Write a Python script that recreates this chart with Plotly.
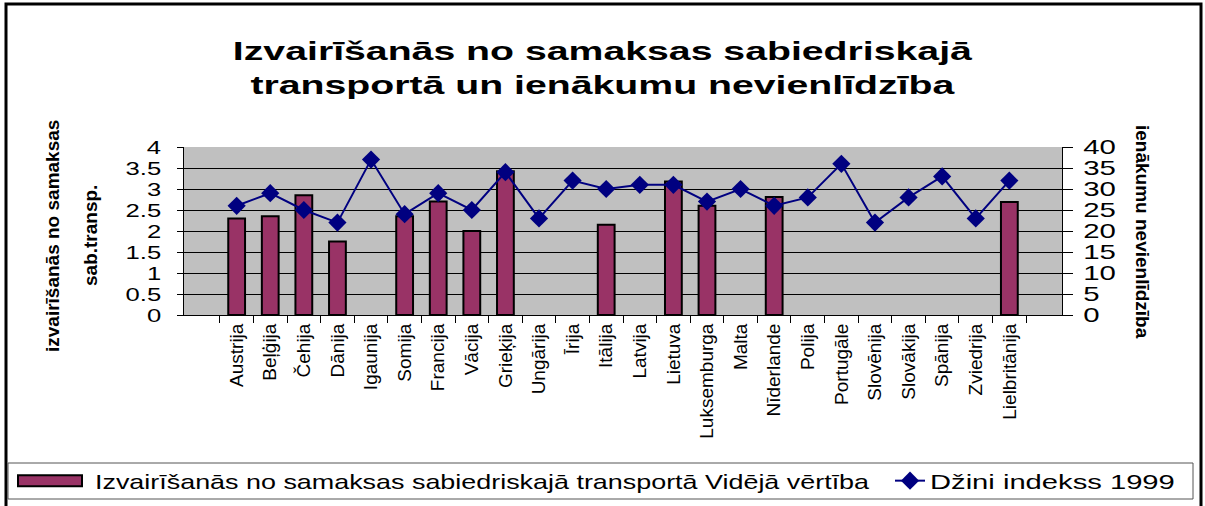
import plotly.graph_objects as go
from plotly.subplots import make_subplots

countries = ["Austrija", "Beļģija", "Čehija", "Dānija", "Igaunija", "Somija", "Francija",
             "Vācija", "Grieķija", "Ungārija", "Īrija", "Itālija", "Latvija", "Lietuva",
             "Luksemburga", "Malta", "Nīderlande", "Polija", "Portugāle", "Slovēnija",
             "Slovākija", "Spānija", "Zviedrija", "Lielbritānija"]
avoidance = [2.3, 2.35, 2.85, 1.75, None, 2.35, 2.7, 2.0, 3.42, None, None, 2.15, None, 3.18,
             2.6, None, 2.81, None, None, None, None, None, None, 2.69]
gini = [26, 29, 25, 22, 37, 24, 29, 25, 34, 23, 32, 30, 31, 31, 27, 30, 26, 28, 36, 22,
        28, 33, 23, 32]

bar_name = "Izvairīšanās no samaksas sabiedriskajā transportā Vidējā vērtība"
line_name = "Džini indekss 1999"
title_text = "Izvairīšanās no samaksas sabiedriskajā<br>transportā un ienākumu nevienlīdzība"
left_title = ["izvairīšanās no samaksas", "sab.transp."]
right_title = "ienākumu nevienlīdzība"

FONT = "Liberation Sans, Arial, sans-serif"

W, H = 1205, 506
L, R, T, B = 184, 1205 - 1062, 147, 506 - 315
PW, PH = W - L - R, H - T - B


def px(sx):
    return (sx - L) / PW


def py(sy):
    return (H - B - sy) / PH


fig = make_subplots(specs=[[{"secondary_y": True}]])
fig.add_trace(go.Bar(x=countries, y=avoidance, name=bar_name, width=0.5, legend="legend",
                     marker=dict(color="#993366", line=dict(color="black", width=2))),
              secondary_y=False)
fig.add_trace(go.Scatter(x=countries, y=gini, name=line_name, mode="lines+markers",
                         legend="legend2",
                         line=dict(color="#000080", width=2),
                         marker=dict(symbol="diamond", size=14, color="#000080")),
              secondary_y=True)

fig.update_layout(
    width=W, height=H,
    margin=dict(l=L, r=R, t=T, b=B, autoexpand=False),
    paper_bgcolor="white", plot_bgcolor="#C0C0C0",
    font=dict(family=FONT, color="black"),
    hovermode=False,
    title=dict(text=title_text, x=0.5, xref="container", y=1 - 60 / H, yref="container",
               yanchor="middle",
               font=dict(size=26, family=FONT, color="black", weight="bold")),
    showlegend=True,
    legend=dict(orientation="h", x=px(25), xanchor="left", y=py(481), yanchor="middle",
                font=dict(size=21, family=FONT), bgcolor="rgba(0,0,0,0)", itemwidth=60),
    legend2=dict(orientation="h", x=px(890), xanchor="left", y=py(481), yanchor="middle",
                 font=dict(size=21, family=FONT), bgcolor="rgba(0,0,0,0)"),
    shapes=[
        dict(type="rect", xref="paper", yref="paper", x0=px(6), x1=px(1201), y0=py(530), y1=py(4),
             line=dict(color="black", width=3), layer="below"),
        dict(type="rect", xref="paper", yref="paper", x0=px(8), x1=px(1193), y0=py(499), y1=py(463),
             line=dict(color="#555555", width=1), layer="below"),
    ],
    annotations=[
        dict(text=left_title[0], xref="paper", yref="paper", x=px(52), y=py(236), textangle=-90,
             xanchor="center", yanchor="middle",
             showarrow=False, font=dict(size=19, family=FONT, weight="bold")),
        dict(text=left_title[1], xref="paper", yref="paper", x=px(90), y=py(236), textangle=-90,
             xanchor="center", yanchor="middle",
             showarrow=False, font=dict(size=19, family=FONT, weight="bold")),
        dict(text=right_title, xref="paper", yref="paper", x=px(1143), y=py(232), textangle=90,
             xanchor="center", yanchor="middle",
             showarrow=False, font=dict(size=19, family=FONT, weight="bold")),
    ],
)

fig.update_xaxes(type="category", domain=[0, 1], tickangle=-90, tickson="boundaries",
                 ticks="outside", ticklen=7, tickcolor="black", showline=True,
                 linecolor="black", linewidth=1, tickfont=dict(size=19, family=FONT),
                 showgrid=False, automargin=False)
fig.update_yaxes(range=[0, 4], dtick=0.5, ticks="outside", ticklen=6, tickcolor="black",
                 showline=True, linecolor="black", linewidth=1, gridcolor="black", gridwidth=1,
                 tickfont=dict(size=19, family=FONT), zeroline=False, automargin=False,
                 ticklabelstandoff=12, secondary_y=False)
fig.update_yaxes(range=[0, 40], dtick=5, ticks="outside", ticklen=10, tickcolor="black",
                 showline=True, linecolor="black", linewidth=1, showgrid=False,
                 tickfont=dict(size=21, family=FONT), zeroline=False, automargin=False,
                 ticklabelstandoff=6, secondary_y=True)

# page without body margin, and horizontal widening of texts
# (the reference is drawn with horizontally stretched type)
post_js = """
(function(){
  document.body.style.margin = '0';
  document.documentElement.style.overflow = 'hidden';
  var gd = document.getElementById('{plot_id}');
  function apply(el, anchor, mode, val){
    var t = el.getAttribute('transform') || '';
    if (el.getAttribute('data-st') !== null && el.getAttribute('data-st') === t) return;
    var b = el.getBBox();
    if (!b.width) return;
    var s = (mode === 'w') ? val / b.width : val;
    var cx = anchor === 'left' ? b.x : (anchor === 'right' ? b.x + b.width : b.x + b.width / 2);
    var nt = t + ' translate(' + cx + ',0) scale(' + s + ',1) translate(' + (-cx) + ',0)';
    el.setAttribute('transform', nt);
    el.setAttribute('data-st', nt);
  }
  function run(){
    gd.querySelectorAll('.gtitle').forEach(function(el){ apply(el, 'center', 'w', 740); });
    document.querySelectorAll('text').forEach(function(el){
      var txt = (el.textContent || '').trim();
      if (txt.indexOf('Vidējā vērtība') >= 0) apply(el, 'left', 'w', 775);
      else if (txt === 'Džini indekss 1999') apply(el, 'left', 'w', 245);
    });
    document.querySelectorAll('[clip-path]').forEach(function(el){
      var g = el.closest('.infolayer');
      if (g) el.removeAttribute('clip-path');
    });
    gd.querySelectorAll('g.ytick text').forEach(function(el){ apply(el, 'right', 's', 1.35); });
    gd.querySelectorAll('g.y2tick text').forEach(function(el){ apply(el, 'left', 's', 1.4); });
    gd.querySelectorAll('g.legend .legendpoints path').forEach(function(p){
      if (p.getAttribute('data-wide')) return;
      var r = p.getBoundingClientRect();
      if (!r.width) return;
      var c = (r.left + r.right) / 2;
      var a = 82 - c, z = 18 - c;
      p.setAttribute('d', 'M' + a + ',5.5H' + z + 'V-5.5H' + a + 'Z');
      p.setAttribute('data-wide', '1');
    });
  }
  run();
  requestAnimationFrame(run);
  [0, 20, 60, 150, 400, 1000, 2000].forEach(function(ms){ setTimeout(run, ms); });
  if (gd.on) gd.on('plotly_afterplot', run);
})();
"""

fig.write_html("out.html", post_script=post_js, config={"displayModeBar": False})
